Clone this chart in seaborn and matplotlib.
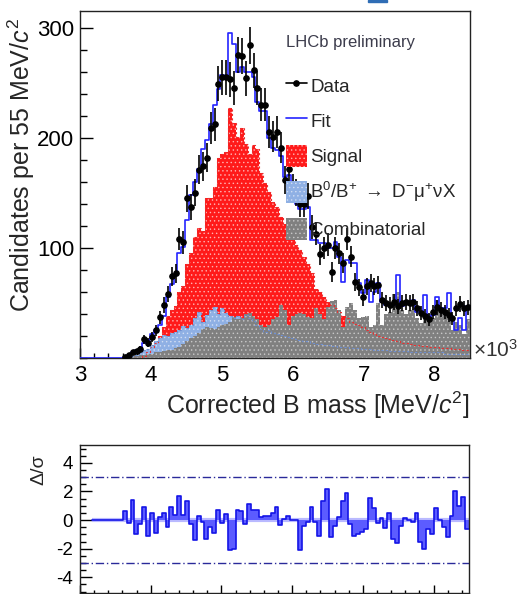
import numpy as np
import matplotlib
matplotlib.use("Agg")
import matplotlib.pyplot as plt
import seaborn as sns
from matplotlib.lines import Line2D
from matplotlib.patches import Patch, Rectangle
from matplotlib.ticker import MultipleLocator, FixedLocator

sns.set_theme(style="white")
plt.rcParams['font.family'] = ['Liberation Sans', 'DejaVu Sans']
plt.rcParams['mathtext.fontset'] = 'custom'
plt.rcParams['mathtext.rm'] = 'Liberation Sans'
plt.rcParams['mathtext.it'] = 'Liberation Sans:italic'
plt.rcParams['mathtext.bf'] = 'Liberation Sans:bold'
plt.rcParams['mathtext.sf'] = 'Liberation Sans'
plt.rcParams['hatch.linewidth'] = 0.5

# ---------------- data (x in units of 10^3 MeV) ----------------
x_start = 3.0
bin_width = 0.055
n_bins = 100
edges = x_start + bin_width * np.arange(n_bins + 1)
centers = edges[:-1] + bin_width / 2

x_ticks = [3, 4, 5, 6, 7, 8]
y_ticks = [100, 200, 300]
pull_ticks = [-4, -2, 0, 2, 4]

first_data_bin = 11
data_counts = [1, 3, 5, 6, 8, 17, 14, 19, 25, 37,
               48, 58, 74, 77, 108, 105, 145, 137, 150, 171,
               174, 182, 209, 212, 249, 255, 255, 253, 245, 275,
               274, 254, 284, 261, 245, 230, 230, 205, 201, 205,
               191, 162, 172, 155, 150, 140, 140, 147, 119, 113,
               94, 100, 103, 78, 100, 95, 86, 108, 92, 69,
               64, 55, 65, 68, 65, 66, 53, 50, 48, 51,
               47, 50, 51, 50, 51, 45, 41, 38, 35, 42,
               46, 44, 42, 39, 36, 45, 49, 45, 46]

fit_total = [0, 0, 0, 0, 0, 0, 0, 0, 0, 0,
             0, 1, 3, 5, 7, 9, 14, 16, 22, 25,
             30, 38, 55, 67, 75, 95, 101, 125, 148, 160,
             172, 190, 198, 212, 230, 244, 257, 255, 295, 285,
             260, 264, 260, 260, 255, 232, 224, 224, 200, 191,
             189, 183, 164, 166, 150, 140, 135, 135, 137, 107,
             107, 104, 104, 100, 100, 105, 92, 69, 89, 86,
             86, 68, 59, 71, 51, 60, 68, 51, 48, 48,
             48, 75, 47, 51, 51, 53, 42, 42, 57, 37,
             39, 55, 45, 45, 59, 36, 25, 36, 25, 47]

signal = [0, 0, 0, 0, 0, 0, 0, 0, 0, 0,
          0, 0, 0, 0, 0, 0, 2, 5, 10, 14,
          20, 28, 38, 44, 47, 60, 65, 85, 95, 110,
          118, 115, 145, 145, 155, 182, 185, 187, 227, 213,
          201, 209, 194, 185, 193, 190, 168, 159, 151, 142,
          137, 128, 122, 113, 108, 103, 98, 92, 85, 77,
          63, 60, 55, 51, 48, 45, 42, 38, 36, 33,
          31, 30, 28, 25, 24, 22, 20, 19, 18, 17,
          16, 15, 14, 14, 13, 12, 12, 11, 11, 10,
          10, 10, 9, 9, 9, 8, 8, 8, 7, 7]

b_to_dmunux = [0, 0, 0, 0, 0, 0, 0, 0, 0, 0,
               0, 0, 1, 2, 3, 5, 7, 8, 12, 15,
               18, 21, 20, 23, 24, 25, 29, 27, 30, 36,
               42, 33, 39, 44, 46, 40, 45, 41, 38, 36,
               38, 35, 39, 36, 34, 30, 26, 24, 25, 23,
               22, 21, 20, 19, 18, 17, 16, 15, 15, 14,
               13, 13, 12, 12, 11, 11, 10, 10, 10, 9,
               9, 9, 8, 8, 8, 7, 7, 7, 7, 6,
               6, 6, 6, 6, 5, 5, 5, 5, 5, 5,
               5, 5, 5, 4, 4, 4, 4, 4, 4, 4]

combinatorial = [0, 0, 0, 0, 0, 0, 0, 0, 0, 0,
                 0, 1, 1, 2, 2, 3, 3, 4, 4, 5,
                 5, 6, 7, 7, 9, 10, 13, 15, 18, 20,
                 23, 26, 28, 27, 26, 28, 30, 31, 33, 37,
                 35, 36, 40, 41, 38, 35, 30, 28, 30, 35,
                 37, 48, 44, 30, 38, 40, 41, 40, 37, 36,
                 45, 40, 35, 46, 52, 53, 44, 28, 46, 50,
                 44, 36, 37, 38, 28, 30, 50, 30, 40, 42,
                 58, 60, 44, 40, 44, 47, 36, 32, 38, 40,
                 36, 53, 44, 40, 38, 25, 33, 30, 22, 35]

first_pull_bin = 3
pulls = [0, 0, 0, 0, 0, 0, 0, 0,
         0.6, -0.2, 1.4, -1.0, -0.3,
         0.9, -1.1, 0.5, -0.9, 0.2,
         0.5, -0.5, 0.9, 0.35, 1.7,
         0.35, 1.3, -0.3, -1.4, 0.3,
         -0.1, -1.3, -0.5, -0.9, 0.7,
         -0.2, 0.4, -2.1, -2.0, 0.7,
         0.6, -0.3, 1.1, 0.7, 0.7,
         0.2, 0.3, 0.3, 0.5, 0.9,
         -0.35, 0.1, 0.3, 0.0, 0.0,
         -2.1, -0.4, -0.1, 0.9, -0.1,
         -1.1, 1.35, 2.2, -1.2, -0.4,
         0.2, 1.3, 1.9, -0.3, -1.1,
         -0.95, -0.8, -0.6, 1.55, 0.85,
         -0.2, 0.15, -0.55, 0.5, -1.3,
         -1.6, -0.4, 0.15, 0.0, -0.1,
         0.5, -1.5, -2.0, -0.6, -1.0,
         0.85, 0.0, -0.5, -1.2, 0.3,
         2.0, 1.0, 1.6, -0.6]

# ---------------- figure ----------------
fig = plt.figure(figsize=(5.2, 5.94), dpi=100)
fig.patch.set_facecolor("white")
ax = fig.add_axes([80 / 520, 1 - 358 / 594, 390 / 520, 347 / 594])
ax2 = fig.add_axes([80 / 520, 1 / 594, 389 / 520, 148 / 594])

red_face, red_hatch = "#ff1a1a", "#ffb3b3"
blue_face, blue_hatch = "#8fb0e4", "#d2def4"
grey_face, grey_hatch = "#808080", "#c9c9c9"
fit_color = "#2424ff"
bin_list = [float(e) for e in edges]

def filled(values, face, hatchcol, z):
    sns.histplot(x=centers, weights=np.asarray(values, float), bins=bin_list,
                 element="step", fill=True,
                 color=face, facecolor=face, edgecolor=hatchcol, hatch="....",
                 linewidth=0, alpha=1, ax=ax, zorder=z)

def outline(target, values, color, lw, ls, z, binl=bin_list, xs=centers):
    sns.histplot(x=xs, weights=np.asarray(values, float), bins=binl,
                 element="step", fill=False, color=color, linewidth=lw,
                 linestyle=ls, ax=target, zorder=z)

filled(signal, red_face, red_hatch, 1)
filled(b_to_dmunux, blue_face, blue_hatch, 2)
filled(combinatorial, grey_face, grey_hatch, 3)

outline(ax, signal, "#e83030", 0.8, (0, (2, 2)), 4)
outline(ax, b_to_dmunux, "#6f8fd0", 0.8, (0, (2, 2)), 4)
outline(ax, fit_total, fit_color, 1.2, "-", 5)

dc = np.array(data_counts, dtype=float)
dx = centers[first_data_bin:first_data_bin + len(dc)]
ax.errorbar(dx, dc, yerr=np.sqrt(dc), fmt="o", ms=3.8, color="black",
            ecolor="black", elinewidth=1.2, capsize=0, zorder=6)

ax.set_xlim(edges[0], edges[-1])
ax.set_ylim(0, 315)
ax.xaxis.set_major_locator(FixedLocator(x_ticks))
ax.set_xticklabels([str(t) for t in x_ticks])
ax.xaxis.set_minor_locator(MultipleLocator(0.2))
ax.yaxis.set_major_locator(FixedLocator(y_ticks))
ax.set_yticklabels([str(t) for t in y_ticks])
ax.yaxis.set_minor_locator(MultipleLocator(20))
ax.tick_params(axis="both", which="both", direction="in", bottom=True, left=True,
               top=False, right=False, labelsize=16, colors="black")
ax.tick_params(axis="y", which="major", length=9, width=1, pad=4)
ax.tick_params(axis="y", which="minor", length=4.8, width=1)
ax.tick_params(axis="x", which="major", length=7, width=1, pad=5)
ax.tick_params(axis="x", which="minor", length=3.6, width=1)
for s in ax.spines.values():
    s.set_color("#222222")
    s.set_linewidth(1.0)

ax.set_ylabel("Candidates per 55 MeV/$c^{2}$", fontsize=18, loc="top")
ax.yaxis.set_label_coords(-0.11, 0.98)
ax.set_xlabel("Corrected B mass [MeV/$c^{2}$]", fontsize=18, loc="right")
ax.xaxis.set_label_coords(1.0, -0.09)

fig.text(473 / 520, 1 - 350 / 594, r"$\times$10$^{3}$", fontsize=15,
         ha="left", va="center", color="#333333")

ax.text(0.528, 0.91, "LHCb preliminary", transform=ax.transAxes, fontsize=12,
        color="#3c3c4c", ha="left", va="center")

handles = [
    Line2D([], [], color="black", marker="o", ms=3.8, lw=1.2),
    Line2D([], [], color=fit_color, lw=1.2),
    Patch(facecolor=red_face, edgecolor=red_hatch, hatch="....", lw=0),
    Patch(facecolor=blue_face, edgecolor=blue_hatch, hatch="....", lw=0),
    Patch(facecolor=grey_face, edgecolor=grey_hatch, hatch="....", lw=0),
]
labels = ["Data", "Fit", "Signal",
          "B$^{0}$/B$^{+}$ $\\rightarrow$ D$^{-}$\u03bc$^{+}$\u03bdX", "Combinatorial"]
leg = ax.legend(handles, labels, loc="upper left", bbox_to_anchor=(0.528, 0.817),
                frameon=False, fontsize=13.5, handlelength=1.12, handleheight=1.44,
                labelspacing=0.70, handletextpad=0.18, borderpad=0, borderaxespad=0)
leg.set_zorder(10)

# ---------------- pull panel ----------------
pv = np.array(pulls, dtype=float)
p_edges = [float(e) for e in edges[first_pull_bin:first_pull_bin + len(pv) + 1]]
p_centers = centers[first_pull_bin:first_pull_bin + len(pv)]
ax2.plot([p_edges[0], p_edges[-1]], [0, 0], color="#b9b9ff", lw=3, zorder=1,
         solid_capstyle="butt")
sns.histplot(x=p_centers, weights=pv, bins=p_edges, element="step", fill=True,
             color="#5c5cff", facecolor="#5c5cff", edgecolor="none", linewidth=0,
             alpha=1, ax=ax2, zorder=2)
outline(ax2, pv, "#1414e6", 1.2, "-", 3, binl=p_edges, xs=p_centers)
for lvl in (3, -3):
    ax2.axhline(lvl, color="#2a2a9a", lw=1.0, linestyle=(0, (6, 2, 1, 2)), zorder=1)

ax2.set_xlim(edges[0], edges[-1])
ax2.set_ylim(-5.1, 5.25)
ax2.xaxis.set_major_locator(FixedLocator(x_ticks))
ax2.xaxis.set_minor_locator(MultipleLocator(0.2))
ax2.set_xticklabels([])
ax2.yaxis.set_major_locator(FixedLocator(pull_ticks))
ax2.set_yticklabels([str(t) for t in pull_ticks])
ax2.yaxis.set_minor_locator(MultipleLocator(0.5))
ax2.tick_params(axis="both", which="both", direction="in", bottom=True, left=True,
                top=False, right=False, labelsize=13.5, colors="black")
ax2.tick_params(axis="y", which="major", length=8.4, width=1, pad=5)
ax2.tick_params(axis="y", which="minor", length=4.2, width=1)
ax2.tick_params(axis="x", which="major", length=5.5, width=1)
ax2.tick_params(axis="x", which="minor", length=2.5, width=1)
for s in ax2.spines.values():
    s.set_color("#222222")
    s.set_linewidth(1.0)
ax2.set_xlabel("")
ax2.set_ylabel("Δ/σ", fontsize=14, loc="top")
ax2.yaxis.set_label_coords(-0.085, 0.94)

fig.patches.append(Rectangle((368 / 520, 1 - 2 / 594), 19 / 520, 2 / 594,
                             transform=fig.transFigure, color="#2f6db5", zorder=0))

fig.savefig("out.png", dpi=100, facecolor="white")
